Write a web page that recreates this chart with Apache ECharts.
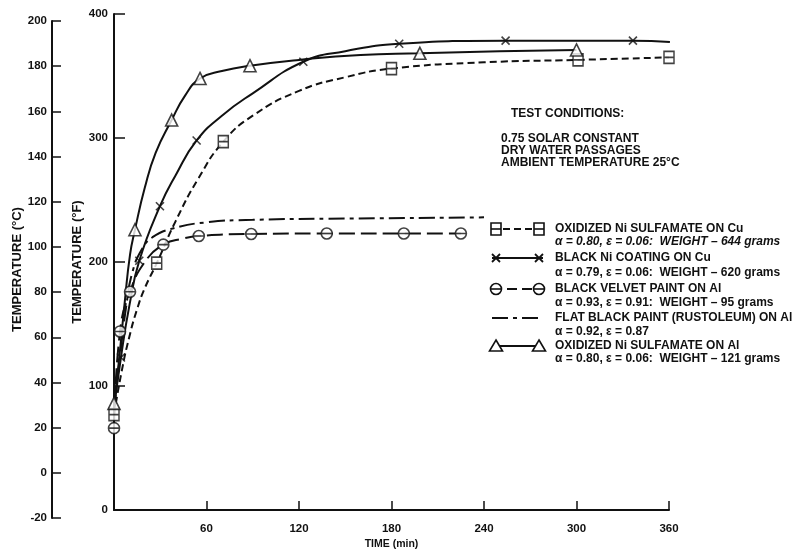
<!DOCTYPE html>
<html>
<head>
<meta charset="utf-8">
<script src="https://cdn.jsdelivr.net/npm/echarts@6/dist/echarts.min.js"></script>
<style>html,body{margin:0;padding:0;background:#fff;}#c{width:810px;height:551px;}</style>
</head>
<body>
<div id="c"></div>
<script>
// ---- data (time in min, temperature in °F) ----
const timeTicks = [0, 60, 120, 180, 240, 300, 360];
const fTicks = [0, 100, 200, 300, 400];
const cTicks = [-20, 0, 20, 40, 60, 80, 100, 120, 140, 160, 180, 200];

// Oxidized Ni sulfamate on Cu (squares, dashed)
const sqCuCurve = [[0,77],[5,112],[10,140],[15,162],[20,179],[27.7,199],[40,233],[55,268],[70.9,297],[90,318],[120,338],[150,349],[180,356],[240,361],[301,363],[360,365]];
const sqCuMarks = [[0,77],[27.7,199],[70.9,297],[180,356],[301,363],[360,365]];

// Black Ni coating on Cu (X, solid)
const niCuCurve = [[0,82],[4.5,123],[10,165],[16.4,201],[29.8,245],[40,270],[53.6,298],[70,318],[90,336],[122.8,361.5],[150,370],[185,376],[254,378.5],[336.6,378.5],[360.6,377.4]];
const niCuMarks = [[4.5,123],[16.4,201],[29.8,245],[53.6,298],[122.8,361.5],[185,376],[254,378.5],[336.6,378.5],[360.6,377.4]];

// Black velvet paint on Al (circles, long dash)
const velvetCurve = [[0,66],[3.9,144],[10.4,176],[20,200],[32,214],[45,219],[55,221],[89,222.6],[138,223],[188,223],[225,223]];
const velvetMarks = [[0,66],[3.9,144],[10.4,176],[32,214],[55,221],[89,222.6],[138,223],[188,223],[225,223]];

// Flat black paint (Rustoleum) on Al (long-short dash, no markers)
const flatCurve = [[0,80],[4,125],[8,165],[12,192],[18,210],[25,220],[38,227],[60,232],[90,234],[150,235],[240,236]];

// Oxidized Ni sulfamate on Al (triangles, solid)
const triAlCurve = [[0,86],[3,118],[7,168],[10.4,206],[13.6,226],[20,260],[27,288],[37.4,314.5],[46,334],[55.8,348],[70,354],[88.2,358.3],[120,363],[160,367],[198.4,368.3],[250,370],[300,371]];
const triAlMarks = [[0,86],[13.6,226],[37.4,314.5],[55.8,348],[88.2,358.3],[198.4,368.3],[300,371]];

const legendTitles = [
  'OXIDIZED Ni SULFAMATE ON Cu',
  'BLACK Ni COATING ON Cu',
  'BLACK VELVET PAINT ON Al',
  'FLAT BLACK PAINT (RUSTOLEUM) ON Al',
  'OXIDIZED Ni SULFAMATE ON Al'
];
const legendSubs = [
  'α = 0.80, ε = 0.06:  WEIGHT – 644 grams',
  'α = 0.79, ε = 0.06:  WEIGHT – 620 grams',
  'α = 0.93, ε = 0.91:  WEIGHT – 95 grams',
  'α = 0.92, ε = 0.87',
  'α = 0.80, ε = 0.06:  WEIGHT – 121 grams'
];
const conditions = ['TEST CONDITIONS:', '0.75 SOLAR CONSTANT', 'DRY WATER PASSAGES', 'AMBIENT TEMPERATURE 25°C'];

// ---- styling ----
const FONT = '"Liberation Sans", Arial, sans-serif';
const K = '#111';
const SQ = 'path://M0,0H10V12H0ZM0,6H10';
const CI = 'path://M0,5A5,5,0,1,1,10,5A5,5,0,1,1,0,5ZM0,5H10';
const XX = 'path://M0,0L10,10M10,0L0,10';
const dashSq = [7, 4];
const dashVel = [16, 6];
const dashFlat = [16, 5, 4, 5];

const chart = echarts.init(document.getElementById('c'), null, {renderer: 'canvas'});

function lineSeries(data, dash) {
  return {type: 'line', xAxisIndex: 0, yAxisIndex: 0, data: data, smooth: 0.5,
    showSymbol: false, symbol: 'none', silent: true, z: 2,
    lineStyle: {color: K, width: 2, type: dash || 'solid'}};
}
function markSeries(data, symbol, size) {
  return {type: 'scatter', xAxisIndex: 0, yAxisIndex: 0, data: data, symbol: symbol, symbolSize: size,
    silent: true, z: 3, itemStyle: {color: '#fff', borderColor: K, borderWidth: 1.6}};
}

// legend graphics
const gfx = [];
const legX0 = 490, legX1 = 545, textX = 555;
const rowY = [229, 258, 289, 318, 346];
const subY = [242, 273, 303, 332, 359];
function symG(kind, cx, cy) {
  if (kind === 'sq') return [
    {type: 'rect', shape: {x: cx - 5, y: cy - 6, width: 10, height: 12}, style: {fill: '#fff', stroke: K, lineWidth: 1.6}, z: 10},
    {type: 'line', shape: {x1: cx - 5, y1: cy, x2: cx + 5, y2: cy}, style: {stroke: K, lineWidth: 1.6}, z: 11}];
  if (kind === 'ci') return [
    {type: 'circle', shape: {cx: cx, cy: cy, r: 5.5}, style: {fill: '#fff', stroke: K, lineWidth: 1.6}, z: 10},
    {type: 'line', shape: {x1: cx - 5.5, y1: cy, x2: cx + 5.5, y2: cy}, style: {stroke: K, lineWidth: 1.6}, z: 11}];
  if (kind === 'x') return [
    {type: 'line', shape: {x1: cx - 4, y1: cy - 4, x2: cx + 4, y2: cy + 4}, style: {stroke: K, lineWidth: 1.8}, z: 10},
    {type: 'line', shape: {x1: cx + 4, y1: cy - 4, x2: cx - 4, y2: cy + 4}, style: {stroke: K, lineWidth: 1.8}, z: 10}];
  if (kind === 'tri') return [
    {type: 'polygon', shape: {points: [[cx, cy - 6], [cx + 6.5, cy + 5], [cx - 6.5, cy + 5]]}, style: {fill: '#fff', stroke: K, lineWidth: 1.6}, z: 10}];
  return [];
}
const legKinds = ['sq', 'x', 'ci', null, 'tri'];
const legDash = [dashSq, null, [10, 5], dashFlat, null];
const LFONT = 'bold 12px ' + FONT;
for (let i = 0; i < 5; i++) {
  const y = rowY[i];
  gfx.push({type: 'line', shape: {x1: legX0 + 2, y1: y, x2: legX1 - 2, y2: y}, style: {stroke: K, lineWidth: 2, lineDash: legDash[i] || null}, z: 9});
  if (legKinds[i]) {
    symG(legKinds[i], legX0 + 6, y).forEach(g => gfx.push(g));
    symG(legKinds[i], legX1 - 6, y).forEach(g => gfx.push(g));
  }
  gfx.push({type: 'text', style: {text: legendTitles[i], x: textX, y: y, font: LFONT, fill: K, verticalAlign: 'middle'}, z: 10});
  gfx.push({type: 'text', style: {text: legendSubs[i], x: textX, y: subY[i], font: (i === 0 ? 'italic ' : '') + LFONT, fill: K, verticalAlign: 'middle'}, z: 10});
}
const condY = [114, 139, 151, 163];
conditions.forEach((t, i) => {
  gfx.push({type: 'text', style: {text: t, x: i === 0 ? 511 : 501, y: condY[i], font: LFONT, fill: K, verticalAlign: 'middle'}, z: 10});
});

const axisLbl = {color: K, fontFamily: FONT, fontWeight: 'bold', fontSize: 11.5};
const titleStyle = {color: K, fontFamily: FONT, fontWeight: 'bold', fontSize: 13};

chart.setOption({
  animation: false,
  backgroundColor: '#fff',
  grid: [
    {left: 114, top: 14, width: 555, height: 496, outerBoundsMode: 'none', containLabel: false},
    {left: 52, top: 21, width: 1, height: 497, outerBoundsMode: 'none', containLabel: false}
  ],
  xAxis: [
    {type: 'value', gridIndex: 0, min: timeTicks[0], max: timeTicks[timeTicks.length - 1], interval: 60,
      name: 'TIME (min)', nameLocation: 'middle', nameGap: 29, nameMoveOverlap: false,
      nameTextStyle: {color: K, fontFamily: FONT, fontWeight: 'bold', fontSize: 10.5},
      axisLine: {show: true, lineStyle: {color: K, width: 2}},
      axisTick: {show: true, inside: true, length: 9, lineStyle: {color: K, width: 1.5}},
      axisLabel: Object.assign({margin: 13, formatter: v => (v === 0 ? '' : String(v))}, axisLbl),
      splitLine: {show: false}},
    {type: 'value', gridIndex: 1, show: false, min: 0, max: 1}
  ],
  yAxis: [
    {type: 'value', gridIndex: 0, min: fTicks[0], max: fTicks[fTicks.length - 1], interval: 100,
      name: 'TEMPERATURE (°F)', nameLocation: 'middle', nameGap: 30, nameRotate: 90, nameMoveOverlap: false,
      nameTextStyle: titleStyle,
      axisLine: {show: true, lineStyle: {color: K, width: 2}},
      axisTick: {show: true, inside: true, length: 11, lineStyle: {color: K, width: 1.5}},
      axisLabel: Object.assign({margin: 6}, axisLbl),
      splitLine: {show: false}},
    {type: 'value', gridIndex: 1, min: cTicks[0], max: cTicks[cTicks.length - 1], interval: 20,
      name: 'TEMPERATURE (°C)', nameLocation: 'middle', nameGap: 28, nameRotate: 90, nameMoveOverlap: false,
      nameTextStyle: titleStyle,
      axisLine: {show: true, lineStyle: {color: K, width: 2}},
      axisTick: {show: true, inside: true, length: 9, lineStyle: {color: K, width: 1.5}},
      axisLabel: Object.assign({margin: 5}, axisLbl),
      splitLine: {show: false}}
  ],
  series: [
    lineSeries(sqCuCurve, dashSq),
    lineSeries(niCuCurve, 'solid'),
    lineSeries(velvetCurve, dashVel),
    lineSeries(flatCurve, dashFlat),
    lineSeries(triAlCurve, 'solid'),
    markSeries(sqCuMarks, SQ, [10, 12]),
    markSeries(niCuMarks, XX, 8),
    markSeries(velvetMarks, CI, 11),
    markSeries(triAlMarks, 'triangle', 12)
  ],
  graphic: gfx
});
</script>
</body>
</html>
